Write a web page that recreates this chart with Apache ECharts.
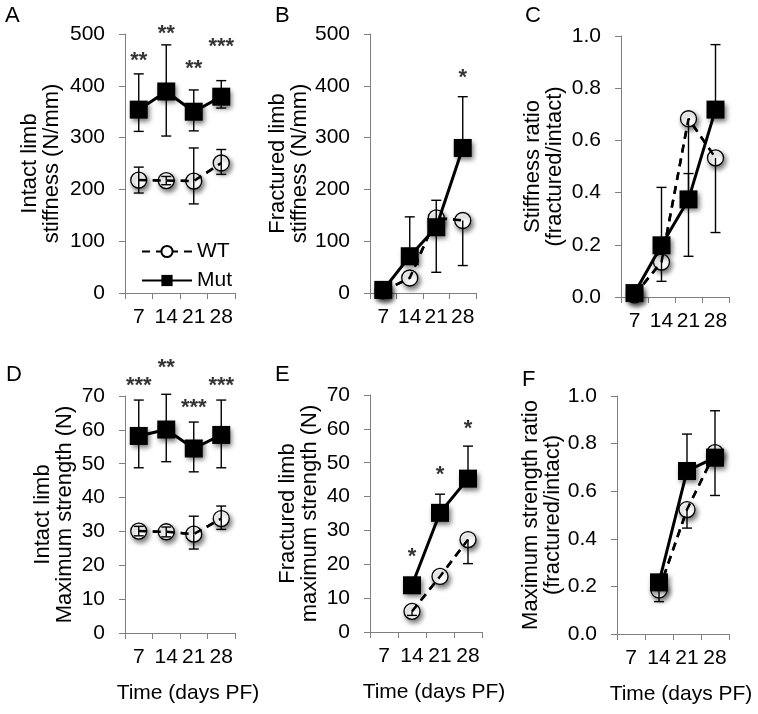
<!DOCTYPE html>
<html lang="en">
<head>
<meta charset="UTF-8">
<title>Limb stiffness and strength</title>
<script src="https://cdn.jsdelivr.net/npm/echarts@6/dist/echarts.min.js"></script>
<style>
    * { margin: 0; padding: 0; }
    #chart { width: 758px; height: 714px; background: #fff; }
</style>
</head>
<body>
<div id="chart"></div>
<script type="text/javascript">
    var days = ['7', '14', '21', '28'];

    // A - intact limb stiffness (N/mm)
    var aWT = [218, 217, 216, 251];
    var aWTHi = [243, 225, 280, 277];
    var aWTLo = [193, 209, 172, 229];
    var aMut = [354, 389, 350, 379];
    var aMutHi = [423, 479, 392, 410];
    var aMutLo = [312, 303, 313, 357];
    var aStars = ['**', '**', '**', '***'];
    var aStarY = [458, 510, 442, 484];

    // B - fractured limb stiffness (N/mm)
    var bWT = [4, 29, 145, 140];
    var bWTLo = [null, null, 40, 53];
    var bMut = [6, 71, 127, 280];
    var bMutHi = [null, 147, 179, 379];
    var bStars = [null, null, null, '*'];
    var bStarY = [null, null, null, 425];

    // C - stiffness ratio
    var cWT = [0.008, 0.134, 0.683, 0.533];
    var cWTLo = [null, 0.06, 0.156, 0.247];
    var cMut = [0.015, 0.198, 0.374, 0.718];
    var cMutHi = [null, 0.42, 0.473, 0.967];

    // D - intact limb maximum strength (N)
    var dWT = [30.1, 29.9, 29.2, 33.8];
    var dWTHi = [31.5, 31.3, 34.5, 37.5];
    var dWTLo = [28.7, 28.4, 24.8, 30.6];
    var dMut = [58.2, 60.1, 54.5, 58.5];
    var dMutHi = [68.8, 70.5, 62.3, 68.8];
    var dMutLo = [48.8, 50.6, 47.6, 48.8];
    var dStars = ['***', '**', '***', '***'];
    var dStarY = [74.5, 79.8, 68, 74.5];

    // E - fractured limb maximum strength (N)
    var eWT = [null, 6.1, 16.4, 27.3];
    var eWTLo = [null, 4.9, null, 20.2];
    var eMut = [null, 13.8, 35.2, 45.3];
    var eMutHi = [null, null, 40.7, 54.9];
    var eStars = [null, '*', '*', '*'];
    var eStarY = [null, 23.7, 47.8, 61.4];

    // F - maximum strength ratio
    var fWT = [null, 0.185, 0.523, 0.762];
    var fWTLo = [null, 0.136, 0.445, 0.582];
    var fMut = [null, 0.217, 0.685, 0.741];
    var fMutHi = [null, null, 0.84, 0.938];

    var FONT = 'Liberation Sans, Arial, sans-serif';
    var AXIS_GRAY = '#7f7f7f';

    var myChart = echarts.init(document.getElementById('chart'));

    var grids = [
        { left: 125, top: 34, width: 110, height: 259 },
        { left: 370, top: 34, width: 106, height: 259 },
        { left: 621, top: 36, width: 108, height: 261 },
        { left: 125, top: 396, width: 110, height: 237 },
        { left: 370, top: 395, width: 112, height: 237 },
        { left: 617, top: 396, width: 112, height: 238 }
    ];

    var yNames = [
        'Intact limb\nstiffness (N/mm)',
        'Fractured limb\nstiffness (N/mm)',
        'Stiffness ratio\n(fractured/intact)',
        'Intact limb\nMaximum strength (N)',
        'Fractured limb\nmaximum strength (N)',
        'Maximum strength ratio\n(fractured/intact)'
    ];
    var yMax = [500, 500, 1, 70, 70, 1];
    var yStep = [100, 100, 0.2, 10, 10, 0.2];
    var yGap = [62, 56, 55, 49, 49, 49];

    var xAxes = [], yAxes = [], series = [];

    for (var k = 0; k < 6; k++) {
        var bottomRow = k >= 3;
        xAxes.push({
            type: 'category',
            gridIndex: k,
            data: days,
            boundaryGap: true,
            name: bottomRow ? 'Time (days PF)' : '',
            nameLocation: 'middle',
            nameGap: 50,
            nameTextStyle: { fontSize: 21, color: '#000', fontFamily: FONT, padding: [0, 0, 0, 16] },
            axisLine: { lineStyle: { color: AXIS_GRAY, width: 1 } },
            axisTick: { show: true, length: 6, lineStyle: { color: AXIS_GRAY } },
            axisLabel: { fontSize: 21, color: '#000', fontFamily: FONT, margin: 14, interval: 0 },
            splitLine: { show: false }
        });
        yAxes.push({
            type: 'value',
            gridIndex: k,
            min: 0,
            max: yMax[k],
            interval: yStep[k],
            name: yNames[k],
            nameLocation: 'middle',
            nameGap: yGap[k],
            nameTextStyle: { fontSize: 22, lineHeight: 22, color: '#000', fontFamily: FONT },
            axisLine: { show: true, lineStyle: { color: AXIS_GRAY, width: 1 } },
            axisTick: { show: true, length: 6, lineStyle: { color: AXIS_GRAY } },
            axisLabel: {
                fontSize: 21, color: '#000', fontFamily: FONT, margin: 20,
                formatter: yStep[k] < 1 ? function (v) { return v.toFixed(1); } : null
            },
            splitLine: { show: false }
        });
    }

    // one whisker per item: [category index, mean, end]
    function whiskers(mid, lo, hi) {
        var out = [];
        for (var i = 0; i < mid.length; i++) {
            if (hi && hi[i] != null) out.push([i, mid[i], hi[i]]);
            if (lo && lo[i] != null) out.push([i, mid[i], lo[i]]);
        }
        return out;
    }

    function renderWhisker(params, api) {
        var p0 = api.coord([api.value(0), api.value(1)]);
        var p1 = api.coord([api.value(0), api.value(2)]);
        var w = 5;
        var st = { stroke: '#000', lineWidth: 1.4 };
        return {
            type: 'group',
            children: [
                { type: 'line', shape: { x1: p0[0], y1: p0[1], x2: p1[0], y2: p1[1] }, style: st },
                { type: 'line', shape: { x1: p1[0] - w, y1: p1[1], x2: p1[0] + w, y2: p1[1] }, style: st }
            ]
        };
    }

    var shadow = { shadowColor: 'rgba(0,0,0,0.55)', shadowBlur: 5, shadowOffsetX: 2, shadowOffsetY: 3 };

    function addPanel(k, wt, wtLo, wtHi, mut, mutLo, mutHi, stars, starY) {
        series.push({
            name: 'WT', type: 'line', xAxisIndex: k, yAxisIndex: k, z: 2,
            data: wt, symbol: 'circle', symbolSize: 16, showAllSymbol: true,
            lineStyle: { color: '#000', width: 2.5, type: [8, 6] },
            itemStyle: Object.assign({ color: '#fff', borderColor: '#000', borderWidth: 1.3 }, shadow)
        });
        // dashed line drawn again over the open circles, as in the original
        series.push({
            type: 'line', xAxisIndex: k, yAxisIndex: k, z: 3, silent: true,
            data: wt, showSymbol: false,
            lineStyle: { color: '#000', width: 2.5, type: [8, 6] }
        });
        series.push({
            type: 'custom', xAxisIndex: k, yAxisIndex: k, z: 4, silent: true,
            renderItem: renderWhisker, data: whiskers(wt, wtLo, wtHi),
            encode: { x: 0, y: [1, 2] }
        });
        series.push({
            type: 'custom', xAxisIndex: k, yAxisIndex: k, z: 4, silent: true,
            renderItem: renderWhisker, data: whiskers(mut, mutLo, mutHi),
            encode: { x: 0, y: [1, 2] }
        });
        series.push({
            name: 'Mut', type: 'line', xAxisIndex: k, yAxisIndex: k, z: 5,
            data: mut, symbol: 'rect', symbolSize: 18, showAllSymbol: true,
            lineStyle: { color: '#000', width: 3 },
            itemStyle: Object.assign({ color: '#000' }, shadow)
        });
        if (stars) {
            var pts = [];
            for (var i = 0; i < stars.length; i++) {
                if (stars[i]) pts.push({ name: stars[i], value: [i, starY[i]] });
            }
            series.push({
                type: 'scatter', xAxisIndex: k, yAxisIndex: k, z: 6, silent: true, clip: false,
                data: pts, symbolSize: 1, itemStyle: { color: 'rgba(0,0,0,0)' },
                label: {
                    show: true, position: 'inside', offset: [0, 5],
                    formatter: function (p) { return p.name; },
                    fontSize: 22, fontWeight: 'bold', color: '#000', fontFamily: FONT
                }
            });
        }
    }

    addPanel(0, aWT, aWTLo, aWTHi, aMut, aMutLo, aMutHi, aStars, aStarY);
    addPanel(1, bWT, bWTLo, null, bMut, null, bMutHi, bStars, bStarY);
    addPanel(2, cWT, cWTLo, null, cMut, null, cMutHi, null, null);
    addPanel(3, dWT, dWTLo, dWTHi, dMut, dMutLo, dMutHi, dStars, dStarY);
    addPanel(4, eWT, eWTLo, null, eMut, null, eMutHi, eStars, eStarY);
    addPanel(5, fWT, fWTLo, null, fMut, null, fMutHi, null, null);

    var letters = [
        { text: 'A', left: 5, top: 5 },
        { text: 'B', left: 275, top: 5 },
        { text: 'C', left: 525, top: 5 },
        { text: 'D', left: 6, top: 364 },
        { text: 'E', left: 275, top: 364 },
        { text: 'F', left: 522, top: 369 }
    ];
    letters.forEach(function (t) {
        t.textStyle = { fontSize: 22, fontWeight: 'normal', color: '#000', fontFamily: FONT };
        t.padding = 0;
    });

    var option = {
        animation: false,
        textStyle: { fontFamily: FONT },
        title: letters,
        grid: grids,
        xAxis: xAxes,
        yAxis: yAxes,
        legend: {
            data: ['WT', 'Mut'],
            orient: 'vertical',
            left: 136,
            top: 236,
            itemWidth: 50,
            itemHeight: 14,
            itemGap: 8,
            selectedMode: false,
            textStyle: { fontSize: 21, color: '#000', fontFamily: FONT }
        },
        series: series
    };

    myChart.setOption(option);
</script>
</body>
</html>
